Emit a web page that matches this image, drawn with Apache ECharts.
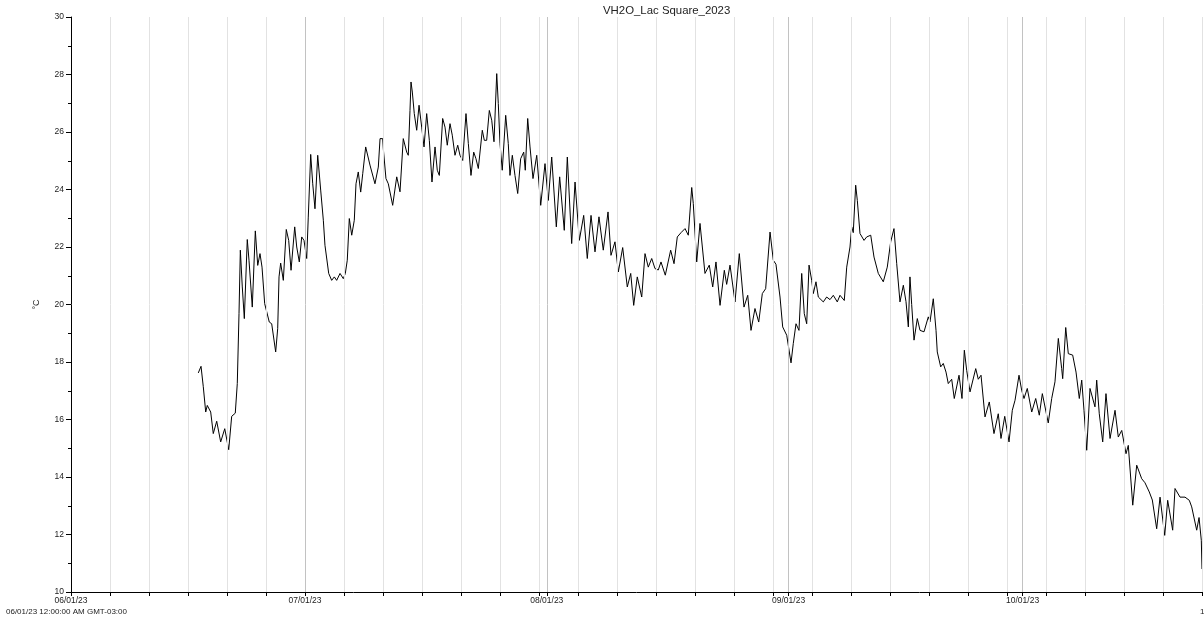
<!DOCTYPE html>
<html>
<head>
<meta charset="utf-8">
<script src="https://cdn.jsdelivr.net/npm/echarts@6/dist/echarts.min.js"></script>
<style>
  html, body { margin: 0; padding: 0; background: #ffffff; }
  #chart { width: 1204px; height: 621px; }
</style>
</head>
<body>
<div id="chart"></div>
<script>
// Logger readings: days elapsed since 06/01/23 00:00 (GMT-03:00)
const dayOffset = [
  16.32,16.67,16.96,17.27,17.47,17.91,18.24,18.68,19.19,19.71,
  20.22,20.60,21.06,21.32,21.54,21.71,21.96,22.22,22.60,22.82,
  23.24,23.63,23.94,24.23,24.49,24.83,25.42,25.73,26.24,26.50,
  26.67,26.88,27.22,27.60,27.91,28.21,28.68,28.94,29.27,29.58,
  29.87,30.22,30.42,30.73,30.99,31.28,31.63,32.01,32.35,32.56,
  33.04,33.42,33.76,34.06,34.49,34.91,35.17,35.42,35.68,35.99,
  36.32,36.54,36.83,37.14,37.40,37.78,38.33,38.97,39.40,39.62,
  39.96,40.04,40.38,40.68,41.24,41.76,42.18,42.60,43.04,43.24,
  43.46,43.59,43.76,44.01,44.32,44.62,44.96,45.26,45.60,45.94,
  46.28,46.67,46.96,47.22,47.65,47.95,48.24,48.59,48.88,49.23,
  49.58,49.87,50.22,50.64,50.94,51.28,51.63,51.92,52.22,52.73,
  52.99,53.29,53.63,53.94,54.23,54.58,54.78,55.00,55.29,55.73,
  56.06,56.28,56.58,56.92,57.27,57.65,58.04,58.24,58.55,58.85,
  59.23,59.71,60.22,60.77,61.19,61.63,62.22,62.65,63.24,63.63,
  64.19,64.62,65.17,65.73,66.19,66.67,67.18,67.69,68.24,68.85,
  69.23,69.74,70.17,70.73,71.32,71.76,72.14,72.60,73.17,73.59,
  74.01,74.45,74.87,75.29,75.64,76.19,76.88,77.31,77.73,78.21,
  78.72,79.14,79.58,79.78,80.22,80.64,81.28,81.83,82.27,82.69,
  83.21,83.76,84.06,84.49,85.13,85.68,86.28,86.76,87.18,87.69,
  88.17,88.63,89.06,89.62,90.04,90.38,90.90,91.24,91.76,92.31,
  92.60,92.95,93.33,93.68,94.01,94.32,94.62,94.96,95.17,95.51,
  95.81,96.45,96.88,97.31,97.73,98.24,98.59,99.14,99.45,99.87,
  100.09,100.29,100.60,100.81,101.15,101.67,102.01,102.53,102.95,103.50,
  104.14,104.65,105.09,105.51,105.86,106.28,106.71,107.05,107.35,107.56,
  107.78,108.08,108.50,108.85,109.36,109.91,110.13,110.55,110.90,111.06,
  111.50,111.83,112.18,112.47,112.91,113.24,113.85,114.23,114.53,114.83,
  115.26,115.99,116.32,116.67,117.18,117.73,118.33,118.88,119.23,119.71,
  120.26,120.68,121.03,121.54,121.88,122.18,122.60,123.17,123.68,124.14,
  124.53,125.29,125.73,126.15,126.58,127.01,127.14,127.53,127.86,128.42,
  128.85,129.27,129.58,129.87,130.22,130.64,131.28,131.50,131.83,132.27,
  132.69,133.21,133.85,134.27,134.71,135.26,135.55,136.12,136.63,137.27,
  137.69,138.24,138.63,139.19,139.62,140.22,140.60,141.24,141.54,142.18,
  142.82,143.37,143.68,144.32,144.62,144.91,145.00
];

// Water temperature (°C) at each reading
const tempC = [
  17.62,17.85,17.14,16.26,16.49,16.26,15.51,15.94,15.22,15.68,
  14.95,16.11,16.22,17.25,19.68,21.89,20.61,19.51,22.26,21.54,
  19.91,22.56,21.36,21.77,21.30,20.03,19.39,19.33,18.35,19.16,
  20.96,21.44,20.84,22.61,22.23,21.19,22.70,22.00,21.48,22.35,
  22.23,21.60,23.04,25.22,24.20,23.33,25.19,23.98,22.93,22.06,
  21.08,20.84,20.96,20.84,21.08,20.90,21.08,21.54,22.99,22.41,
  22.93,24.20,24.61,23.91,24.55,25.48,24.85,24.20,24.78,25.77,
  25.77,25.42,24.38,24.20,23.45,24.44,23.92,25.77,25.30,25.19,
  26.75,27.74,27.39,26.64,26.06,26.93,26.17,25.48,26.64,25.71,
  24.26,25.48,24.67,24.49,26.47,26.17,25.54,26.29,25.89,25.19,
  25.54,25.19,25.01,26.64,25.60,24.49,25.30,25.07,24.73,26.06,
  25.71,25.71,26.75,26.41,25.66,28.03,26.99,25.60,24.67,26.58,
  25.60,24.49,25.19,24.49,23.86,25.07,25.30,24.67,26.47,25.48,
  24.38,25.19,23.45,24.90,23.62,25.13,22.70,24.44,22.58,25.13,
  22.12,24.26,22.23,23.10,21.60,23.10,21.83,23.05,21.89,23.22,
  21.71,22.18,21.13,21.98,20.61,21.08,19.97,20.96,20.26,21.77,
  21.30,21.60,21.25,21.20,21.48,21.02,21.89,21.42,22.35,22.50,
  22.64,22.41,24.07,23.51,21.48,22.82,21.08,21.37,20.61,21.48,
  19.97,21.19,20.70,21.37,20.09,21.77,19.91,20.32,19.10,19.86,
  19.39,20.38,20.55,22.52,21.54,21.40,20.26,19.22,18.93,17.97,
  18.64,19.33,19.10,21.08,19.68,19.33,21.37,20.84,20.38,20.79,
  20.26,20.09,20.26,20.17,20.32,20.09,20.32,20.14,21.30,22.00,
  22.70,22.50,24.15,23.62,22.47,22.23,22.35,22.41,21.65,21.08,
  20.79,21.30,22.18,22.64,21.42,20.09,20.67,20.10,19.22,20.96,
  20.00,18.76,19.51,19.10,19.05,19.57,19.40,20.20,19.10,18.35,
  17.83,17.95,17.65,17.25,17.40,16.73,17.54,16.73,18.41,17.71,
  16.96,17.77,17.40,17.54,16.09,16.61,15.51,16.20,15.34,16.11,
  15.22,16.32,16.67,17.54,17.02,16.73,17.08,16.26,16.73,16.15,
  16.90,15.88,16.73,17.31,18.82,17.77,17.42,19.20,18.29,18.24,
  17.65,16.73,17.37,16.32,14.93,17.08,16.44,17.37,16.20,15.22,
  16.90,15.34,16.32,15.39,15.62,14.81,15.10,13.02,14.41,13.94,
  13.80,13.48,13.20,12.20,13.30,11.97,13.19,12.15,13.60,13.30,
  13.30,13.19,12.96,12.15,12.59,11.80,10.80
];

// Month boundaries on the day axis and their labels
const monthTickDays = [0, 30, 61, 92, 122];
const monthTickLabels = ['06/01/23', '07/01/23', '08/01/23', '09/01/23', '10/01/23'];
const gridStepDays = 5;
const axisEndDay = 145;
const yMin = 10, yMax = 30, yStep = 2;
const startStamp = '06/01/23 12:00:00 AM GMT-03:00';
const endStamp = '10/24/23 12:00:00 AM GMT-03:00';
const chartTitle = 'VH2O_Lac Square_2023';
const unitLabel = '°C';

// Regular 5-day guide positions plus month boundaries
const stepDays = [];
for (let d = 0; d <= axisEndDay; d += gridStepDays) stepDays.push(d);
const tickDays = Array.from(new Set(stepDays.concat(monthTickDays))).sort((a, b) => a - b);

const points = dayOffset.map((d, i) => [d, tempC[i]]);

const guideLines = stepDays.filter(d => d > 0 && monthTickDays.indexOf(d) < 0).map(d => ({
  xAxis: d, lineStyle: { color: '#e2e2e2', width: 1, type: 'solid' }
})).concat(monthTickDays.filter(d => d > 0).map(d => ({
  xAxis: d, lineStyle: { color: '#c2c2c2', width: 1, type: 'solid' }
})));

const axisFont = 'Liberation Sans, Arial, sans-serif';
const chart = echarts.init(document.getElementById('chart'), null, { renderer: 'canvas' });

chart.setOption({
  animation: false,
  backgroundColor: '#ffffff',
  grid: { left: 71, right: 2, top: 17, bottom: 29, containLabel: false },
  xAxis: {
    type: 'value',
    min: 0,
    max: axisEndDay,
    axisLine: { show: true, lineStyle: { color: '#000000', width: 1 } },
    axisTick: { show: true, length: 4, customValues: tickDays, lineStyle: { color: '#000000' } },
    axisLabel: {
      show: true,
      customValues: monthTickDays,
      margin: 4,
      fontSize: 8.5,
      fontFamily: axisFont,
      color: '#222222',
      formatter: v => {
        const i = monthTickDays.indexOf(v);
        return i >= 0 ? monthTickLabels[i] : '';
      }
    },
    splitLine: { show: false }
  },
  yAxis: {
    type: 'value',
    min: yMin,
    max: yMax,
    interval: yStep,
    name: unitLabel,
    nameLocation: 'middle',
    nameGap: 30,
    nameRotate: 90,
    nameTextStyle: { fontSize: 9, fontFamily: axisFont, color: '#222222' },
    axisLine: { show: true, lineStyle: { color: '#000000', width: 1 } },
    axisTick: { show: true, length: 5, lineStyle: { color: '#000000' } },
    minorTick: { show: true, splitNumber: 2, length: 3, lineStyle: { color: '#000000' } },
    axisLabel: { margin: 7, fontSize: 8.5, fontFamily: axisFont, color: '#222222' },
    splitLine: { show: false }
  },
  graphic: [
    {
      type: 'text', left: 603, top: 5,
      style: { text: chartTitle, fontSize: 11.4, fontFamily: axisFont, fill: '#222222' }
    },
    {
      type: 'text', left: 6, top: 608,
      style: { text: startStamp, fontSize: 8, fontFamily: axisFont, fill: '#222222' }
    },
    {
      type: 'text', left: 1200, top: 608,
      style: { text: endStamp, fontSize: 8, fontFamily: axisFont, fill: '#222222' }
    }
  ],
  series: [
    {
      name: 'guides',
      type: 'line',
      data: [],
      z: 1,
      silent: true,
      markLine: { silent: true, symbol: 'none', label: { show: false }, data: guideLines }
    },
    {
      name: unitLabel,
      type: 'line',
      data: points,
      z: 3,
      showSymbol: false,
      symbol: 'none',
      lineStyle: { color: '#000000', width: 1 },
      emphasis: { disabled: true }
    }
  ]
});
</script>
</body>
</html>
